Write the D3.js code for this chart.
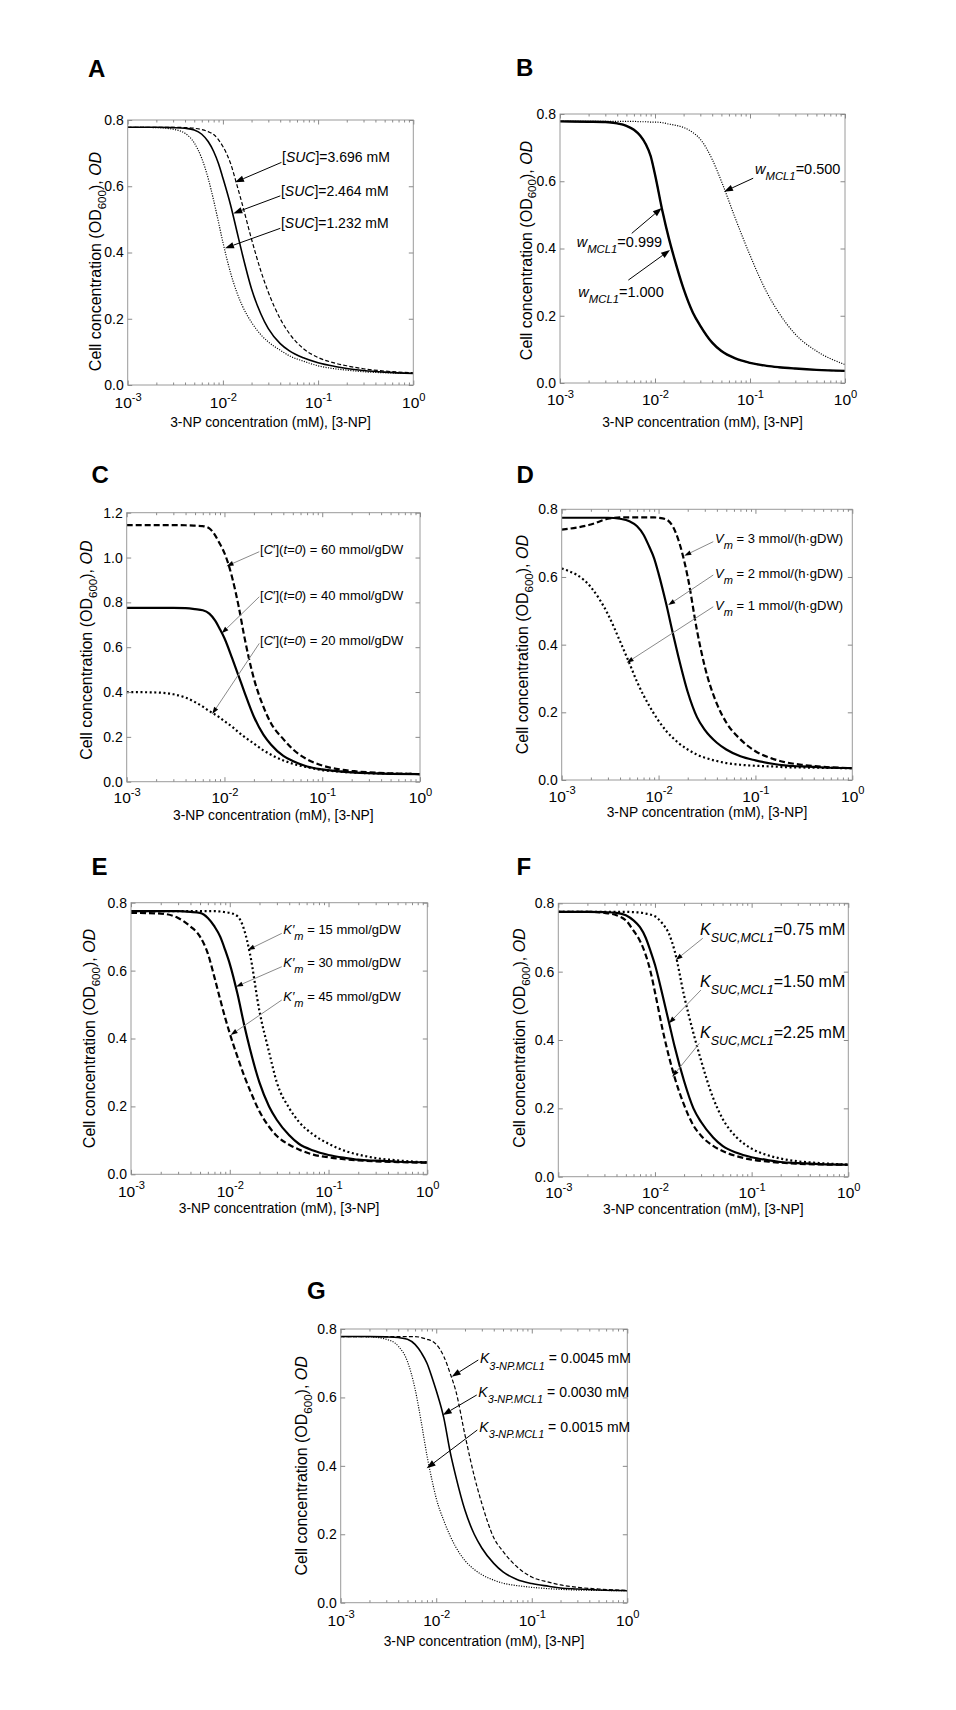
<!DOCTYPE html>
<html><head><meta charset="utf-8">
<script src="https://cdn.jsdelivr.net/npm/d3@7"></script>
<style>
body{margin:0;background:#fff}
svg{display:block}
text{font-family:"Liberation Sans",Arial,Helvetica,sans-serif;fill:#000}
</style>
</head><body>
<svg id="c" width="956" height="1710"></svg>
<script>
// ---------- DATA ----------
// shared 3-NP concentration grid (mM)
const conc = [0.001,0.002,0.003,0.004,0.005,0.006,0.007,0.008,0.009,0.01,0.012,0.014,0.016,0.02,0.025,0.03,0.04,0.05,0.07,0.1,0.15,0.2,0.3,0.5,1];
const xMajorTicks = [0.001,0.01,0.1,1];
const xMajorExp = ["-3","-2","-1","0"];
const yTicks08 = [0,0.2,0.4,0.6,0.8];
const yTicks12 = [0,0.2,0.4,0.6,0.8,1.0,1.2];

// Panel A: [SUC]
const A_suc1232 = [0.778,0.777,0.772,0.760,0.731,0.684,0.624,0.557,0.491,0.431,0.340,0.280,0.239,0.189,0.152,0.130,0.105,0.088,0.072,0.058,0.049,0.045,0.040,0.037,0.035];
const A_suc2464 = [0.778,0.778,0.777,0.775,0.770,0.757,0.735,0.705,0.668,0.625,0.545,0.465,0.395,0.290,0.215,0.170,0.125,0.103,0.082,0.067,0.056,0.050,0.044,0.039,0.035];
const A_suc3696 = [0.778,0.778,0.778,0.777,0.775,0.771,0.765,0.756,0.740,0.720,0.670,0.605,0.545,0.440,0.345,0.280,0.200,0.155,0.110,0.083,0.066,0.058,0.049,0.042,0.037];
// Panel B: w_MCL1
const B_w0999 = [0.778,0.777,0.776,0.772,0.765,0.753,0.735,0.710,0.675,0.620,0.510,0.430,0.370,0.280,0.210,0.170,0.120,0.095,0.073,0.060,0.051,0.047,0.043,0.039,0.036];
const B_w1000 = [0.778,0.777,0.776,0.772,0.765,0.753,0.735,0.710,0.675,0.620,0.510,0.430,0.370,0.280,0.210,0.170,0.120,0.095,0.073,0.060,0.051,0.047,0.043,0.039,0.036];
const B_w0500 = [0.778,0.778,0.778,0.778,0.778,0.778,0.777,0.777,0.776,0.776,0.774,0.770,0.767,0.760,0.745,0.725,0.665,0.600,0.490,0.380,0.270,0.210,0.145,0.095,0.055];
// Panel C: [C'](t=0)
const C_c60 = [1.145,1.145,1.145,1.144,1.142,1.140,1.130,1.100,1.060,1.020,0.910,0.780,0.645,0.460,0.335,0.260,0.190,0.145,0.100,0.072,0.055,0.048,0.042,0.037,0.034];
const C_c40 = [0.775,0.775,0.775,0.774,0.770,0.765,0.750,0.720,0.680,0.640,0.550,0.470,0.400,0.290,0.210,0.165,0.115,0.092,0.068,0.055,0.046,0.042,0.038,0.035,0.034];
const C_c20 = [0.400,0.398,0.390,0.375,0.355,0.335,0.315,0.300,0.285,0.270,0.245,0.220,0.200,0.170,0.140,0.120,0.095,0.080,0.065,0.052,0.045,0.041,0.038,0.036,0.034];
// Panel D: Vm
const D_vm3 = [0.740,0.755,0.772,0.776,0.776,0.776,0.776,0.776,0.776,0.775,0.770,0.750,0.710,0.600,0.440,0.335,0.225,0.170,0.120,0.085,0.063,0.053,0.045,0.039,0.035];
const D_vm2 = [0.775,0.775,0.775,0.772,0.765,0.750,0.725,0.690,0.655,0.610,0.520,0.435,0.365,0.260,0.185,0.148,0.110,0.090,0.070,0.058,0.048,0.043,0.040,0.037,0.035];
const D_vm1 = [0.625,0.570,0.490,0.410,0.345,0.290,0.250,0.220,0.195,0.175,0.145,0.125,0.110,0.090,0.075,0.066,0.056,0.050,0.045,0.042,0.040,0.038,0.037,0.036,0.035];
// Panel E: K'm
const E_km15 = [0.775,0.775,0.775,0.775,0.775,0.775,0.775,0.774,0.772,0.770,0.760,0.720,0.650,0.480,0.360,0.270,0.195,0.155,0.117,0.090,0.068,0.058,0.048,0.041,0.035];
const E_km30 = [0.775,0.775,0.775,0.773,0.770,0.755,0.730,0.700,0.660,0.620,0.530,0.440,0.370,0.270,0.200,0.160,0.115,0.090,0.070,0.057,0.048,0.043,0.040,0.037,0.035];
const E_km45 = [0.770,0.768,0.755,0.730,0.700,0.650,0.580,0.515,0.460,0.415,0.345,0.290,0.248,0.185,0.140,0.113,0.087,0.073,0.058,0.050,0.044,0.041,0.038,0.036,0.034];
// Panel F: K_SUC,MCL1
const F_k075 = [0.775,0.775,0.775,0.775,0.775,0.774,0.773,0.770,0.767,0.762,0.740,0.710,0.660,0.530,0.420,0.340,0.230,0.170,0.115,0.082,0.062,0.053,0.045,0.040,0.035];
const F_k150 = [0.775,0.775,0.774,0.772,0.765,0.750,0.730,0.700,0.660,0.620,0.530,0.450,0.380,0.280,0.200,0.160,0.115,0.090,0.070,0.057,0.048,0.043,0.040,0.037,0.035];
const F_k225 = [0.775,0.775,0.772,0.765,0.750,0.720,0.690,0.650,0.600,0.540,0.430,0.350,0.290,0.210,0.150,0.120,0.090,0.075,0.060,0.050,0.044,0.041,0.038,0.036,0.035];
// Panel G: K_3-NP,MCL1
const G_k0045 = [0.778,0.778,0.778,0.778,0.778,0.778,0.775,0.770,0.765,0.755,0.720,0.670,0.620,0.490,0.370,0.290,0.190,0.150,0.105,0.075,0.060,0.052,0.045,0.040,0.036];
const G_k0030 = [0.778,0.778,0.777,0.775,0.770,0.755,0.730,0.700,0.660,0.620,0.540,0.440,0.370,0.270,0.200,0.160,0.115,0.090,0.068,0.056,0.048,0.043,0.040,0.037,0.035];
const G_k0015 = [0.778,0.777,0.770,0.750,0.705,0.625,0.525,0.430,0.360,0.305,0.240,0.195,0.163,0.123,0.097,0.082,0.066,0.057,0.050,0.045,0.041,0.039,0.037,0.036,0.035];

// annotation labels (rich-text segments) and anchor points in data units [mM, OD]
const annA = [
  {label:[{t:"["},{t:"SUC",i:1},{t:"]=3.696 mM"}], at:[0.0418,0.672], tail:[0.0412,0.672], tip:[0.0134,0.612]},
  {label:[{t:"["},{t:"SUC",i:1},{t:"]=2.464 mM"}], at:[0.0407,0.571], tail:[0.0401,0.571], tip:[0.01285,0.518]},
  {label:[{t:"["},{t:"SUC",i:1},{t:"]=1.232 mM"}], at:[0.0407,0.473], tail:[0.0401,0.473], tip:[0.01052,0.413]}
];
const annB = [
  {label:[{t:"w",i:1},{t:"MCL1",i:1,sub:1},{t:"=0.500"}], at:[0.113,0.622], tail:[0.108,0.609], tip:[0.0532,0.569]},
  {label:[{t:"w",i:1},{t:"MCL1",i:1,sub:1},{t:"=0.999"}], at:[0.0015,0.405], tail:[0.00569,0.445], tip:[0.01178,0.5205]},
  {label:[{t:"w",i:1},{t:"MCL1",i:1,sub:1},{t:"=1.000"}], at:[0.00156,0.2566], tail:[0.00524,0.306], tip:[0.01439,0.3955]}
];
const annC = [
  {label:[{t:"["},{t:"C",i:1},{t:"′]("},{t:"t=0",i:1},{t:") = 60 mmol/gDW"}], at:[0.0231,1.0156], tail:[0.0227,1.026], tip:[0.0105,0.9616]},
  {label:[{t:"["},{t:"C",i:1},{t:"′]("},{t:"t=0",i:1},{t:") = 40 mmol/gDW"}], at:[0.0231,0.8104], tail:[0.0227,0.825], tip:[0.00937,0.662]},
  {label:[{t:"["},{t:"C",i:1},{t:"′]("},{t:"t=0",i:1},{t:") = 20 mmol/gDW"}], at:[0.0231,0.6097], tail:[0.0227,0.617], tip:[0.0075,0.302]}
];
const annD = [
  {label:[{t:"V",i:1},{t:"m",i:1,sub:1},{t:" = 3 mmol/(h·gDW)"}], at:[0.0383,0.6995], tail:[0.0367,0.7043], tip:[0.01843,0.6628]},
  {label:[{t:"V",i:1},{t:"m",i:1,sub:1},{t:" = 2 mmol/(h·gDW)"}], at:[0.0383,0.596], tail:[0.0367,0.6058], tip:[0.01259,0.517]},
  {label:[{t:"V",i:1},{t:"m",i:1,sub:1},{t:" = 1 mmol/(h·gDW)"}], at:[0.0383,0.5024], tail:[0.0367,0.512], tip:[0.00469,0.3466]}
];
const annE = [
  {label:[{t:"K′",i:1},{t:"m",i:1,sub:1},{t:" = 15 mmol/gDW"}], at:[0.0348,0.7078], tail:[0.0336,0.7097], tip:[0.0152,0.6607]},
  {label:[{t:"K′",i:1},{t:"m",i:1,sub:1},{t:" = 30 mmol/gDW"}], at:[0.0348,0.6097], tail:[0.0336,0.6115], tip:[0.01156,0.5526]},
  {label:[{t:"K′",i:1},{t:"m",i:1,sub:1},{t:" = 45 mmol/gDW"}], at:[0.0348,0.5113], tail:[0.0336,0.5134], tip:[0.01022,0.4103]}
];
const annF = [
  {label:[{t:"K",i:1},{t:"SUC,MCL1",i:1,sub:1},{t:"=0.75 mM"}], at:[0.0292,0.7073], tail:[0.0312,0.6976], tip:[0.01639,0.634]},
  {label:[{t:"K",i:1},{t:"SUC,MCL1",i:1,sub:1},{t:"=1.50 mM"}], at:[0.0292,0.556], tail:[0.0299,0.5463], tip:[0.01396,0.4489]},
  {label:[{t:"K",i:1},{t:"SUC,MCL1",i:1,sub:1},{t:"=2.25 mM"}], at:[0.0292,0.405], tail:[0.0288,0.3903], tip:[0.0151,0.2926]}
];
const annG = [
  {label:[{t:"K",i:1},{t:"3-NP.MCL1",i:1,sub:1},{t:" = 0.0045 mM"}], at:[0.0287,0.6998], tail:[0.02756,0.7094], tip:[0.01452,0.6606]},
  {label:[{t:"K",i:1},{t:"3-NP.MCL1",i:1,sub:1},{t:" = 0.0030 mM"}], at:[0.02756,0.6022], tail:[0.02655,0.6071], tip:[0.0117,0.5487]},
  {label:[{t:"K",i:1},{t:"3-NP.MCL1",i:1,sub:1},{t:" = 0.0015 mM"}], at:[0.02825,0.4999], tail:[0.02692,0.5048], tip:[0.00794,0.3929]}
];

const xLabel = "3-NP concentration (mM), [3-NP]";
const yLabelSegs = [{t:"Cell concentration (OD"},{t:"600",sub:1},{t:"), "},{t:"OD",i:1}];

// ---------- LAYOUT / STYLE ----------
const thin = {
  solid:{w:1.6,dash:null}, dashed:{w:1.2,dash:"4,2.2"}, dotted:{w:1.2,dash:"1.1,1.4"},
  arrow:{color:"#000",w:1,len:9,hw:3.2}
};
const thick = {
  solid:{w:2.2,dash:null}, dashed:{w:2.2,dash:"6,3"}, dotted:{w:2.2,dash:"2,2.6"},
  arrow:{color:"#8a8a8a",w:1,len:7,hw:2.4}
};
const thinB = Object.assign({}, thin, {solid:{w:2.4,dash:null}});

const panels = [
  {id:"A", box:[127.7,120,413.3,385], ymax:0.8, yt:yTicks08, st:thin, ann:annA, fs:14, subK:0.78,
   series:[{y:A_suc1232,s:"dotted"},{y:A_suc2464,s:"solid"},{y:A_suc3696,s:"dashed"}], letter:[88,77],
   ylab:[-26.5,9], xlab:42, xtick:23},
  {id:"B", box:[560,114,845,383], ymax:0.8, yt:yTicks08, st:thinB, ann:annB, fs:14.5, subK:0.78,
   series:[{y:B_w0500,s:"dotted"},{y:B_w1000,s:"dashed"},{y:B_w0999,s:"solid"}], letter:[516,76],
   ylab:[-28.5,2], xlab:43.5, xtick:22},
  {id:"C", box:[126.7,512.7,420,781.7], ymax:1.2, yt:yTicks12, st:thick, ann:annC, fs:13, subK:0.78,
   series:[{y:C_c20,s:"dotted"},{y:C_c40,s:"solid"},{y:C_c60,s:"dashed"}], letter:[91.5,483],
   ylab:[-35,3], xlab:38.5, xtick:21.6},
  {id:"D", box:[561.7,509.3,852.3,780], ymax:0.8, yt:yTicks08, st:thick, ann:annD, fs:13, subK:0.85,
   series:[{y:D_vm1,s:"dotted"},{y:D_vm2,s:"solid"},{y:D_vm3,s:"dashed"}], letter:[516.5,483],
   ylab:[-33.7,0], xlab:37, xtick:21.7},
  {id:"E", box:[131,902.7,427.3,1174.3], ymax:0.8, yt:yTicks08, st:thick, ann:annE, fs:13, subK:0.85,
   series:[{y:E_km15,s:"dotted"},{y:E_km30,s:"solid"},{y:E_km45,s:"dashed"}], letter:[91.5,875],
   ylab:[-36,0], xlab:39, xtick:22.4},
  {id:"F", box:[558.3,903.3,848.3,1176.7], ymax:0.8, yt:yTicks08, st:thick, ann:annF, fs:16, subK:0.78,
   series:[{y:F_k075,s:"dotted"},{y:F_k150,s:"solid"},{y:F_k225,s:"dashed"}], letter:[516.5,875],
   ylab:[-33.3,-2], xlab:37, xtick:21.6},
  {id:"G", box:[340.7,1329,627.3,1602.7], ymax:0.8, yt:yTicks08, st:thin, ann:annG, fs:14, subK:0.78,
   series:[{y:G_k0015,s:"dotted"},{y:G_k0030,s:"solid"},{y:G_k0045,s:"dashed"}], letter:[307,1299],
   ylab:[-34,0], xlab:43, xtick:23}
];

// ---------- DRAW ----------
const svg = d3.select("#c");
const FONT = '"Liberation Sans",Arial,Helvetica,sans-serif';

function rich(textSel, segs, base, subK, subShift) {
  let shift = 0;
  segs.forEach(s => {
    const target = s.sub ? base*subShift : (s.sup ? -base*0.5 : 0);
    const ts = textSel.append("tspan").text(s.t)
      .attr("font-size", (s.sub||s.sup) ? base*subK : base);
    if (s.i) ts.attr("font-style","italic");
    if (target !== shift) ts.attr("dy", target - shift);
    shift = target;
  });
}

function arrow(g, x1, y1, x2, y2, st) {
  const a = Math.atan2(y2-y1, x2-x1);
  const bx = x2 - st.len*Math.cos(a), by = y2 - st.len*Math.sin(a);
  g.append("line").attr("x1",x1).attr("y1",y1).attr("x2",bx).attr("y2",by)
    .attr("stroke",st.color).attr("stroke-width",st.w);
  const px = -Math.sin(a)*st.hw, py = Math.cos(a)*st.hw;
  g.append("path").attr("d",`M${x2},${y2}L${bx+px},${by+py}L${bx-px},${by-py}Z`).attr("fill","#000");
}

const minorTicks = [];
for (let e=-3; e<0; e++) for (let k=2; k<10; k++) minorTicks.push(+(k*Math.pow(10,e)).toPrecision(3));

panels.forEach(p => {
  const [x0,y0,x1,y1] = p.box;
  const x = d3.scaleLog().domain([1e-3,1]).range([x0,x1]);
  const y = d3.scaleLinear().domain([0,p.ymax]).range([y1,y0]);
  const g = svg.append("g");

  const cid = "clip"+p.id;
  svg.append("clipPath").attr("id",cid).append("rect")
    .attr("x",x0).attr("y",y0-2).attr("width",x1-x0).attr("height",y1-y0+2);

  // curves
  const line = d3.line().x((d,i)=>x(conc[i])).y(d=>y(d)).curve(d3.curveMonotoneX);
  const cg = g.append("g").attr("clip-path",`url(#${cid})`);
  p.series.forEach(s => {
    const sty = p.st[s.s];
    cg.append("path").attr("d", line(s.y)).attr("fill","none")
      .attr("stroke","#000").attr("stroke-width",sty.w)
      .attr("stroke-dasharray", sty.dash).attr("stroke-linejoin","round");
  });

  // frame
  g.append("rect").attr("x",x0).attr("y",y0).attr("width",x1-x0).attr("height",y1-y0)
    .attr("fill","none").attr("stroke","#9a9a9a").attr("stroke-width",1);

  const styleAxis = ax => { ax.select(".domain").remove(); ax.selectAll(".tick line").attr("stroke","#8a8a8a"); };
  const xb = g.append("g").attr("transform",`translate(0,${y1})`)
    .call(d3.axisBottom(x).tickValues(xMajorTicks).tickSize(-4.5).tickFormat(()=>"")); styleAxis(xb);
  const xbm = g.append("g").attr("transform",`translate(0,${y1})`)
    .call(d3.axisBottom(x).tickValues(minorTicks).tickSize(-2.5).tickFormat(()=>"")); styleAxis(xbm);
  const xtp = g.append("g").attr("transform",`translate(0,${y0})`)
    .call(d3.axisTop(x).tickValues(xMajorTicks).tickSize(-4.5).tickFormat(()=>"")); styleAxis(xtp);
  const xtm = g.append("g").attr("transform",`translate(0,${y0})`)
    .call(d3.axisTop(x).tickValues(minorTicks).tickSize(-2.5).tickFormat(()=>"")); styleAxis(xtm);
  // x tick labels 10^n
  xb.selectAll(".tick").each(function(d,i){
    const t = d3.select(this).append("text").attr("y",p.xtick).attr("text-anchor","middle")
      .attr("font-family",FONT).attr("fill","#000");
    rich(t, [{t:"10"},{t:xMajorExp[i],sup:1}], 15.5, 0.72, 0);
  });
  xb.selectAll(".tick text tspan:last-child").attr("dy",-7.5);

  // y ticks
  const yl = g.append("g").attr("transform",`translate(${x0},0)`)
    .call(d3.axisLeft(y).tickValues(p.yt).tickSize(-4.5).tickPadding(4).tickFormat(d3.format(".1f")));
  styleAxis(yl);
  yl.selectAll(".tick text").attr("font-family",FONT).attr("font-size",14).attr("fill","#000");
  const yr = g.append("g").attr("transform",`translate(${x1},0)`)
    .call(d3.axisRight(y).tickValues(p.yt).tickSize(-4.5).tickFormat(()=>""));
  styleAxis(yr);

  // axis titles
  g.append("text").attr("x",(x0+x1)/2).attr("y",y1+p.xlab).attr("text-anchor","middle")
    .attr("font-size",13.8).text(xLabel);
  const yt = g.append("text").attr("text-anchor","middle")
    .attr("transform",`translate(${x0+p.ylab[0]},${(y0+y1)/2+p.ylab[1]}) rotate(-90)`);
  rich(yt, yLabelSegs, 16, 0.72, 0.3);

  // annotations
  p.ann.forEach(a => {
    arrow(g, x(a.tail[0]), y(a.tail[1]), x(a.tip[0]), y(a.tip[1]), p.st.arrow);
    const t = g.append("text").attr("x",x(a.at[0])).attr("y",y(a.at[1]));
    rich(t, a.label, p.fs, p.subK, 0.45);
  });

  // panel letter
  svg.append("text").attr("x",p.letter[0]).attr("y",p.letter[1])
    .attr("font-size",24).attr("font-weight","bold").text(p.id);
});
</script>
</body></html>
